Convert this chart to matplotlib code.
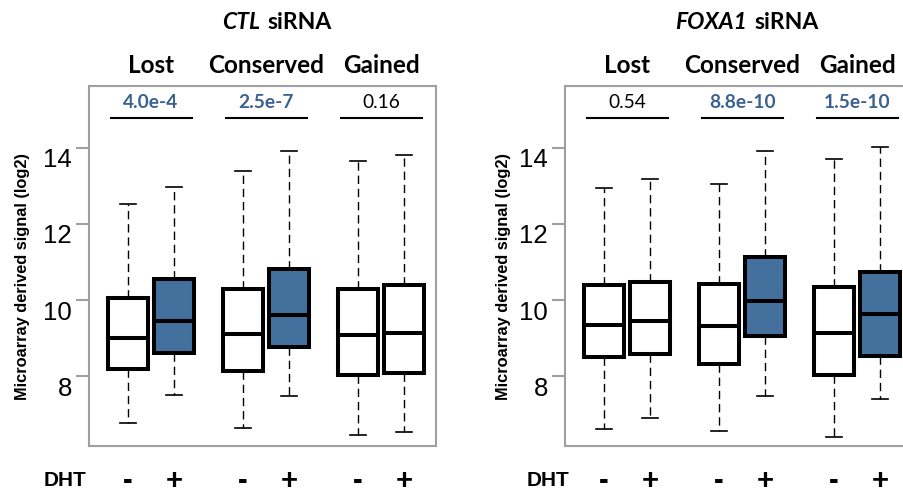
import numpy as np
import matplotlib
matplotlib.use('Agg')
import matplotlib.pyplot as plt
from matplotlib import transforms

positions = [0, 2, 5, 7, 10, 12]
groups = ['Lost', 'Conserved', 'Gained']
dht_signs = ['-', '+', '-', '+', '-', '+']
yticks = [8, 10, 12, 14]

# CTL siRNA
ctl_whislo = [6.77, 7.51, 6.63, 7.47, 6.46, 6.54]
ctl_q1 = [8.19, 8.60, 8.14, 8.76, 8.03, 8.09]
ctl_med = [8.99, 9.46, 9.11, 9.60, 9.07, 9.12]
ctl_q3 = [10.06, 10.54, 10.30, 10.82, 10.28, 10.39]
ctl_whishi = [12.53, 12.97, 13.40, 13.93, 13.67, 13.82]
ctl_filled = [False, True, False, True, False, False]
ctl_pvals = ['4.0e-4', '2.5e-7', '0.16']
ctl_signif = [True, True, False]

# FOXA1 siRNA
fox_whislo = [6.60, 6.89, 6.55, 7.48, 6.39, 7.39]
fox_q1 = [8.49, 8.58, 8.33, 9.06, 8.02, 8.54]
fox_med = [9.34, 9.44, 9.32, 9.97, 9.12, 9.63]
fox_q3 = [10.39, 10.48, 10.41, 11.14, 10.34, 10.74]
fox_whishi = [12.94, 13.19, 13.05, 13.93, 13.71, 14.03]
fox_filled = [False, False, False, True, False, True]
fox_pvals = ['0.54', '8.8e-10', '1.5e-10']
fox_signif = [False, True, True]

BLUE = '#44709e'
PBLUE = '#3b6190'
GRAY = '#a0a0a0'
ARIAL = ['Liberation Sans', 'DejaVu Sans']
CALIBRI = ['Lato', 'DejaVu Sans']


def draw_panel(ax, whislo, q1, med, q3, whishi, filled, pvals, signif,
               gene, title_x, dht_x, ylab_x):
    stats = [dict(whislo=a, q1=b, med=c, q3=d, whishi=e)
             for a, b, c, d, e in zip(whislo, q1, med, q3, whishi)]
    art = ax.bxp(stats, positions=positions, widths=1.74, showfliers=False,
                 patch_artist=True, capwidths=0.7,
                 boxprops=dict(edgecolor='black', linewidth=2.9),
                 medianprops=dict(color='black', linewidth=2.9),
                 whiskerprops=dict(color='black', linewidth=1.0,
                                   linestyle=(0, (6, 3.5))),
                 capprops=dict(color='black', linewidth=1.2))
    for box, f in zip(art['boxes'], filled):
        box.set_facecolor(BLUE if f else 'white')

    ax.set_xlim(-1.7, 13.39)
    ax.set_ylim(6.16, 15.63)
    ax.set_xticks([])
    ax.set_yticks(yticks)
    ax.set_yticklabels([str(t) for t in yticks], family=ARIAL, fontsize=18.5)
    ax.tick_params(axis='y', length=9.4, width=1.5, color=GRAY, pad=3)
    shift = transforms.ScaledTranslation(0, -10 / 100, ax.figure.dpi_scale_trans)
    for lab in ax.get_yticklabels():
        lab.set_transform(lab.get_transform() + shift)
    for sp in ax.spines.values():
        sp.set_color(GRAY)
        sp.set_linewidth(1.5)

    for i in range(3):
        a, b = positions[2 * i], positions[2 * i + 1]
        cx = (a + b) / 2
        ax.plot([a - 0.76, b + 0.76], [14.79, 14.79], color='black', lw=1.5)
        ax.text(cx, 15.2, pvals[i], ha='center', va='center', fontsize=13.8,
                family=CALIBRI, fontweight='bold' if signif[i] else 'normal',
                color=PBLUE if signif[i] else 'black')
        ax.text(cx, 16.18, groups[i], ha='center', va='center', fontsize=17.5,
                family=CALIBRI, fontweight='bold', clip_on=False)

    ax.annotate(gene, xy=(title_x, 17.3), xytext=(-2.8, 0),
                textcoords='offset points', ha='right', va='center',
                fontsize=16.5, family=CALIBRI, fontweight='bold',
                fontstyle='italic', annotation_clip=False)
    ax.annotate('siRNA', xy=(title_x, 17.3), xytext=(2.8, 0),
                textcoords='offset points', ha='left', va='center',
                fontsize=16.5, family=CALIBRI, fontweight='bold',
                annotation_clip=False)

    ax.text(dht_x, 5.25, 'DHT', ha='center', va='center', fontsize=15,
            family=ARIAL, fontweight='bold', clip_on=False)
    for p, s in zip(positions, dht_signs):
        ax.text(p, 5.25, s, ha='center', va='center', fontsize=21,
                family=ARIAL, fontweight='bold', clip_on=False)

    ax.text(ylab_x, 0.472, 'Microarray derived signal (log2)',
            transform=ax.transAxes, rotation=90, ha='center', va='center',
            fontsize=11.8, family=ARIAL, fontweight='bold')


fig = plt.figure(figsize=(9.04, 4.93), dpi=100)
ax1 = fig.add_axes([89 / 904, 47 / 493, 347 / 904, 360 / 493])
ax2 = fig.add_axes([565 / 904, 47 / 493, 347 / 904, 360 / 493])

draw_panel(ax1, ctl_whislo, ctl_q1, ctl_med, ctl_q3, ctl_whishi, ctl_filled,
           ctl_pvals, ctl_signif, 'CTL', 5.91, -2.76, -0.193)
draw_panel(ax2, fox_whislo, fox_q1, fox_med, fox_q3, fox_whishi, fox_filled,
           fox_pvals, fox_signif, 'FOXA1', 6.39, -2.43, -0.176)

fig.savefig('out.png', dpi=100)
